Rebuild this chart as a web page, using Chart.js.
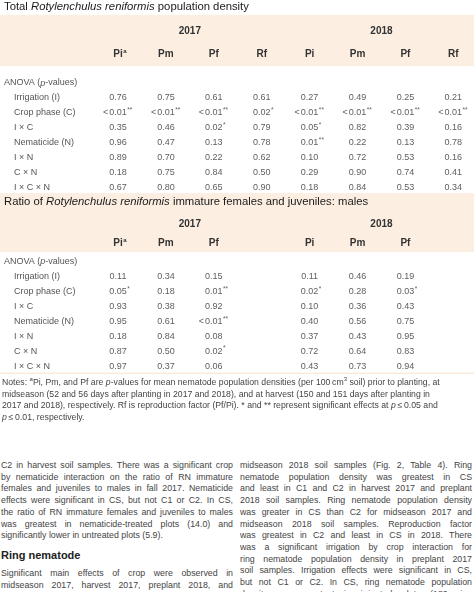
<!DOCTYPE html>
<html>
<head>
<meta charset="utf-8">
<script src="https://cdn.jsdelivr.net/npm/chart.js@4.4.0/dist/chart.umd.min.js"></script>
<style>
  html, body { margin: 0; padding: 0; background: #fff; }
  body { width: 474px; height: 592px; position: relative; overflow: hidden; font-family: "Liberation Sans", Arial, sans-serif; }
  #tableChart { position: absolute; left: 0; top: 0; }
  .notes { position: absolute; left: 2px; top: 377px; font-size: 8.7px; line-height: 11.5px; color: #444; white-space: nowrap; }
  .notes sup, .col sup { font-size: 6px; line-height: 0; }
  .col { position: absolute; top: 460px; width: 232px; font-size: 8.8px; line-height: 11.7px; color: #444; }
  .col .j { text-align: justify; text-align-last: justify; }
  .col .h { font-weight: bold; font-size: 11px; color: #222; margin: 7px 0 6px; line-height: 13px; }
</style>
</head>
<body>
<canvas id="tableChart" width="474" height="380"></canvas>

<div class="notes">
  <div>Notes: <sup>a</sup>Pi, Pm, and Pf are <i>p</i>-values for mean nematode population densities (per 100&thinsp;cm<sup>3</sup> soil) prior to planting, at</div>
  <div>midseason (52 and 56 days after planting in 2017 and 2018), and at harvest (150 and 151 days after planting in</div>
  <div>2017 and 2018), respectively. Rf is reproduction factor (Pf/Pi). * and ** represent significant effects at <i>p</i>&thinsp;≤&thinsp;0.05 and</div>
  <div><i>p</i>&thinsp;≤&thinsp;0.01, respectively.</div>
</div>

<div class="col" style="left:1px">
  <div class="j">C2 in harvest soil samples. There was a significant crop</div>
  <div class="j">by nematicide interaction on the ratio of RN immature</div>
  <div class="j">females and juveniles to males in fall 2017. Nematicide</div>
  <div class="j">effects were significant in CS, but not C1 or C2. In CS,</div>
  <div class="j">the ratio of RN immature females and juveniles to males</div>
  <div class="j">was greatest in nematicide-treated plots (14.0) and</div>
  <div>significantly lower in untreated plots (5.9).</div>
  <div class="h">Ring nematode</div>
  <div class="j">Significant main effects of crop were observed in</div>
  <div class="j">midseason 2017, harvest 2017, preplant 2018, and</div>
</div>

<div class="col" style="left:240px">
  <div class="j">midseason 2018 soil samples (Fig. 2, Table 4). Ring</div>
  <div class="j">nematode population density was greatest in CS</div>
  <div class="j">and least in C1 and C2 in harvest 2017 and preplant</div>
  <div class="j">2018 soil samples. Ring nematode population density</div>
  <div class="j">was greater in CS than C2 for midseason 2017 and</div>
  <div class="j">midseason 2018 soil samples. Reproduction factor</div>
  <div class="j">was greatest in C2 and least in CS in 2018. There</div>
  <div class="j">was a significant irrigation by crop interaction for</div>
  <div class="j">ring nematode population density in preplant 2017</div>
  <div class="j">soil samples. Irrigation effects were significant in CS,</div>
  <div class="j">but not C1 or C2. In CS, ring nematode population</div>
  <div class="j">density was greatest in irrigated plots (180 ring</div>
</div>

<script>
// ----------------------------------------------------
// data: p-values
// ----------------------------------------------------
const factors = ['Irrigation (I)', 'Crop phase (C)', 'I × C', 'Nematicide (N)', 'I × N', 'C × N', 'I × C × N'];
const years = ['2017', '2018'];
const totalCols = ['Pi', 'Pm', 'Pf', 'Rf', 'Pi', 'Pm', 'Pf', 'Rf'];
const ratioCols = ['Pi', 'Pm', 'Pf', 'Pi', 'Pm', 'Pf'];

// total population density
const totalPi2017 = ['0.76', '<0.01**', '0.35', '0.96', '0.89', '0.18', '0.67'];
const totalPm2017 = ['0.75', '<0.01**', '0.46', '0.47', '0.70', '0.75', '0.80'];
const totalPf2017 = ['0.61', '<0.01**', '0.02*', '0.13', '0.22', '0.84', '0.65'];
const totalRf2017 = ['0.61', '0.02*', '0.79', '0.78', '0.62', '0.50', '0.90'];
const totalPi2018 = ['0.27', '<0.01**', '0.05*', '0.01**', '0.10', '0.29', '0.18'];
const totalPm2018 = ['0.49', '<0.01**', '0.82', '0.22', '0.72', '0.90', '0.84'];
const totalPf2018 = ['0.25', '<0.01**', '0.39', '0.13', '0.53', '0.74', '0.53'];
const totalRf2018 = ['0.21', '<0.01**', '0.16', '0.78', '0.16', '0.41', '0.34'];

// immature females and juveniles : males
const ratioPi2017 = ['0.11', '0.05*', '0.93', '0.95', '0.18', '0.87', '0.97'];
const ratioPm2017 = ['0.34', '0.18', '0.38', '0.61', '0.84', '0.50', '0.37'];
const ratioPf2017 = ['0.15', '0.01**', '0.92', '<0.01**', '0.08', '0.02*', '0.06'];
const ratioPi2018 = ['0.11', '0.02*', '0.10', '0.40', '0.37', '0.72', '0.43'];
const ratioPm2018 = ['0.46', '0.28', '0.36', '0.56', '0.43', '0.64', '0.73'];
const ratioPf2018 = ['0.19', '0.03*', '0.43', '0.75', '0.95', '0.83', '0.94'];

// column slots on the x scale (ratio table skips the Rf slots)
const totalSlots = [0, 1, 2, 3, 4, 5, 6, 7];
const ratioSlots = [0, 1, 2, 4, 5, 6];

// ----------------------------------------------------
// layout in table units (x = column slot, y = row)
// ----------------------------------------------------
const FIRST_COL_PX = 118, COL_STEP = 47.9, ROW_H = 14.85, CANVAS_W = 474, CANVAS_H = 380;
const T1 = { title: 0.47, bandTop: 1.0, year: 2.09, head: 3.64, bandBottom: 4.45, anova: 5.59, row0: 6.6 };
const T2 = { title: 13.6, bandTop: 13.0, year: 15.08, head: 16.36, bandBottom: 16.97, anova: 17.64, row0: 18.65 };
const RULE_Y = 25.1;

const FONT = '"Liberation Sans", Arial, sans-serif';
const BAND = '#fcefe2';

function makeDatasets(cols, slots, t) {
    return cols.map((vals, c) => ({
        data: vals.map((v, i) => ({ x: slots[c], y: t.row0 + i })),
        cells: vals,
        pointRadius: 0
    }));
}

const datasets = [
    ...makeDatasets([totalPi2017, totalPm2017, totalPf2017, totalRf2017, totalPi2018, totalPm2018, totalPf2018, totalRf2018], totalSlots, T1),
    ...makeDatasets([ratioPi2017, ratioPm2017, ratioPf2017, ratioPi2018, ratioPm2018, ratioPf2018], ratioSlots, T2)
];

// draw text pieces one after another (for italic words)
function drawRuns(ctx, runs, x, y, size, weight, color) {
    ctx.textAlign = 'left';
    ctx.fillStyle = color;
    runs.forEach(r => {
        ctx.font = (r.i ? 'italic ' : '') + weight + ' ' + size + 'px ' + FONT;
        ctx.fillText(r.t, x, y);
        x += ctx.measureText(r.t).width;
    });
}

function drawCell(ctx, text, x, y) {
    const m = text.match(/^(<?)([\d.]+)(\**)$/);
    ctx.fillStyle = '#5e5e5e';
    ctx.font = '9px ' + FONT;
    ctx.textAlign = 'center';
    ctx.fillText(m[2], x, y);
    const w = ctx.measureText(m[2]).width;
    if (m[1]) {
        ctx.textAlign = 'right';
        ctx.fillText('<', x - w / 2 - 1, y);
    }
    if (m[3]) {
        ctx.font = '6.5px ' + FONT;
        ctx.textAlign = 'left';
        ctx.fillText(m[3], x + w / 2 + 0.5, y - 2.5);
    }
}

const tablePlugin = {
    id: 'tableText',
    beforeDatasetsDraw(chart) {
        const ctx = chart.ctx, xs = chart.scales.x, ys = chart.scales.y;
        ctx.save();
        ctx.fillStyle = BAND;
        [T1, T2].forEach(t => {
            const top = ys.getPixelForValue(t.bandTop), bottom = ys.getPixelForValue(t.bandBottom);
            ctx.fillRect(xs.left, top, xs.right - xs.left, bottom - top);
        });
        ctx.fillStyle = '#f6e2cf';
        ctx.fillRect(xs.left, ys.getPixelForValue(RULE_Y), xs.right - xs.left, 1);
        ctx.restore();
    },
    afterDatasetsDraw(chart) {
        const ctx = chart.ctx, xs = chart.scales.x, ys = chart.scales.y;
        ctx.save();
        ctx.textBaseline = 'middle';

        // titles
        drawRuns(ctx, [{ t: 'Total ' }, { t: 'Rotylenchulus reniformis', i: true }, { t: ' population density' }],
            xs.left + 4, ys.getPixelForValue(T1.title), 11.3, 'normal', '#1a1a1a');
        drawRuns(ctx, [{ t: 'Ratio of ' }, { t: 'Rotylenchulus reniformis', i: true }, { t: ' immature females and juveniles: males' }],
            xs.left + 4, ys.getPixelForValue(T2.title), 11.3, 'normal', '#1a1a1a');

        [[T1, totalCols, totalSlots], [T2, ratioCols, ratioSlots]].forEach(([t, cols, slots]) => {
            // years
            ctx.font = 'bold 10px ' + FONT;
            ctx.fillStyle = '#333';
            ctx.textAlign = 'center';
            years.forEach((yr, k) => ctx.fillText(yr, xs.getPixelForValue(1.5 + k * 4), ys.getPixelForValue(t.year)));

            // column heads
            cols.forEach((name, c) => {
                const x = xs.getPixelForValue(slots[c]), y = ys.getPixelForValue(t.head);
                ctx.font = 'bold 10px ' + FONT;
                ctx.fillStyle = '#333';
                ctx.textAlign = 'center';
                ctx.fillText(name, x, y);
                if (c === 0) {
                    const w = ctx.measureText(name).width;
                    ctx.font = 'bold 6px ' + FONT;
                    ctx.textAlign = 'left';
                    ctx.fillText('a', x + w / 2 + 0.5, y - 2.5);
                }
            });

            // row labels
            drawRuns(ctx, [{ t: 'ANOVA (' }, { t: 'p', i: true }, { t: '-values)' }],
                xs.left + 4, ys.getPixelForValue(t.anova), 9, 'normal', '#555');
            ctx.font = '9px ' + FONT;
            ctx.fillStyle = '#555';
            ctx.textAlign = 'left';
            factors.forEach((f, i) => ctx.fillText(f, xs.left + 14, ys.getPixelForValue(t.row0 + i)));
        });

        // cells, at the points placed by the scales
        chart.data.datasets.forEach((ds, d) => {
            chart.getDatasetMeta(d).data.forEach((pt, i) => drawCell(ctx, ds.cells[i], pt.x, pt.y));
        });
        ctx.restore();
    }
};

new Chart(document.getElementById('tableChart'), {
    type: 'scatter',
    data: { datasets },
    options: {
        responsive: false,
        animation: false,
        events: [],
        layout: { padding: 0 },
        plugins: { legend: { display: false }, tooltip: { enabled: false } },
        scales: {
            x: { type: 'linear', display: false, min: -FIRST_COL_PX / COL_STEP, max: (CANVAS_W - FIRST_COL_PX) / COL_STEP },
            y: { type: 'linear', display: false, reverse: true, min: 0, max: CANVAS_H / ROW_H }
        }
    },
    plugins: [tablePlugin]
});
</script>
</body>
</html>
